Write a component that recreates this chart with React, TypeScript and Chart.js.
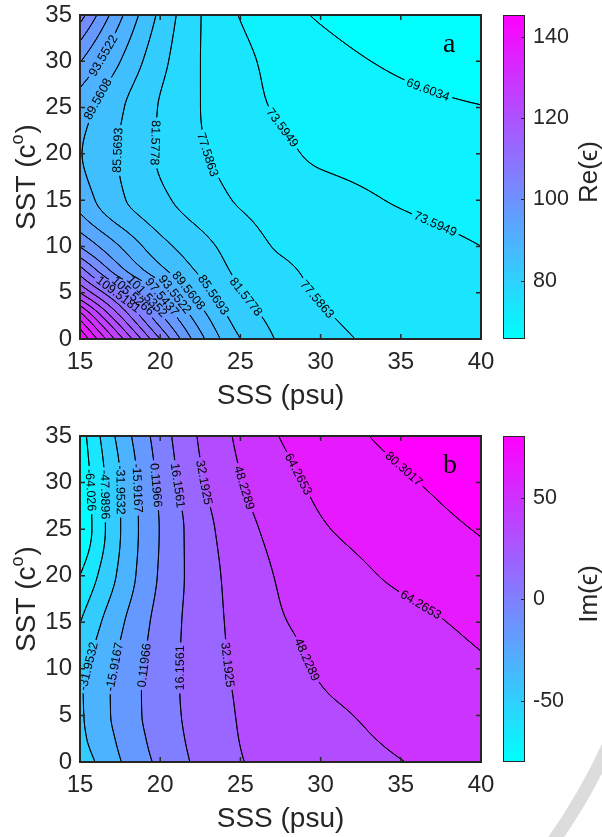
import React, { useEffect, useRef } from 'react';
import { Chart, registerables } from 'chart.js';

Chart.register(...registerables);

// ---------- data ----------
const SSS_GRID = [15, 17.5, 20, 22.5, 25, 27.5, 30, 35, 40];
const SST_GRID = [0, 2.5, 5, 7.5, 10, 15, 20, 25, 30, 35];

// Re(eps): one row per SST_GRID value, one column per SSS_GRID value
const RE_EPS = [
  [145.4, 127.0, 109.5, 94.8, 85.6, 81.1, 78.9, 76.3, 75.0],
  [135.5, 117.5, 102.3, 91.2, 83.6, 80.2, 78.0, 76.0, 74.9],
  [121.5, 108.3, 97.0, 87.6, 81.8, 79.2, 77.3, 75.8, 74.7],
  [111.0, 98.6, 90.5, 84.8, 80.6, 78.3, 76.8, 75.3, 74.2],
  [101.4, 93.5, 87.0, 83.0, 79.6, 77.2, 76.3, 74.9, 73.6],
  [92.0, 86.2, 82.5, 79.5, 77.2, 75.9, 75.0, 73.3, 72.2],
  [89.8, 85.3, 81.1, 78.0, 76.0, 74.4, 73.0, 72.0, 71.0],
  [91.5, 86.1, 81.3, 77.6, 74.8, 73.2, 72.0, 70.6, 69.7],
  [97.8, 89.6, 82.8, 77.6, 74.5, 72.5, 70.9, 69.0, 67.7],
  [107.5, 94.4, 84.7, 77.7, 73.4, 71.0, 69.2, 67.2, 65.7],
];

// Im(eps)
const IM_EPS = [
  [-42.2, -16.6, 3.8, 19.9, 31.6, 36.0, 39.9, 47.8, 56.0],
  [-36.0, -13.2, 6.6, 21.4, 32.5, 37.4, 42.3, 50.7, 57.5],
  [-34.4, -10.8, 8.2, 22.4, 33.2, 39.0, 44.7, 52.6, 59.0],
  [-34.0, -10.6, 8.5, 23.1, 34.0, 40.8, 47.5, 54.3, 60.8],
  [-36.9, -12.5, 7.9, 23.6, 35.3, 43.1, 49.4, 55.9, 62.5],
  [-48.3, -18.8, 5.7, 23.9, 37.0, 47.2, 51.8, 59.6, 67.8],
  [-64.0, -28.7, 2.0, 23.9, 38.8, 49.7, 56.0, 67.0, 74.8],
  [-79.5, -32.5, 0.8, 25.1, 42.5, 53.8, 62.7, 72.4, 81.4],
  [-76.0, -32.3, 3.5, 30.2, 47.4, 59.3, 67.5, 78.0, 88.0],
  [-72.0, -26.7, 7.9, 34.0, 51.4, 64.7, 71.7, 85.0, 93.0],
];

const RE_LEVELS = [69.6034, 73.5949, 77.5863, 81.5778, 85.5693, 89.5608, 93.5522, 97.5437, 101.5352,
  105.5266, 109.5181, 113.5096, 117.5010, 121.4925, 125.4840, 129.4755, 133.4669, 137.4584, 141.4499];
const RE_RANGE = [65.6119, 145.4413];
const IM_LEVELS = [-64.026, -47.9896, -31.9532, -15.9167, 0.11966, 16.1561, 32.1925, 48.2289, 64.2653, 80.3017];
const IM_RANGE = [-80.0624, 80.3017];

const X_TICKS = [15, 20, 25, 30, 35, 40];
const Y_TICKS = [0, 5, 10, 15, 20, 25, 30, 35];
const RE_CB_TICKS = [80, 100, 120, 140];
const IM_CB_TICKS = [-50, 0, 50];

// contour label anchors: [level index, SSS, SST, approx angle deg]
const RE_LABELS = [
  [6, 16.56, 30.5, -60], [5, 16.25, 25.8, -60], [4, 17.2, 20.4, -90], [3, 19.55, 21.2, 90],
  [2, 22.92, 19.9, 80], [1, 27.6, 22.8, 55], [0, 36.8, 27.4, 22], [1, 37.26, 12.86, 25],
  [2, 29.5, 3.9, 55], [3, 25.3, 4.5, 50], [4, 23.3, 4.75, 50], [5, 21.67, 5.1, 50],
  [6, 20.6, 4.4, 45], [7, 19.86, 4.2, 45], [8, 18.93, 4.2, 45], [9, 18.0, 4.1, 45], [10, 17.2, 4.4, 45],
];
const IM_LABELS = [
  [0, 15.75, 29.2, 90], [1, 16.68, 28.7, 80], [2, 17.56, 29.2, 85], [3, 18.6, 29.4, 80],
  [4, 19.68, 29.7, 85], [5, 21.17, 29.7, 85], [6, 22.67, 30.0, 80], [7, 25.16, 29.4, 75],
  [8, 28.28, 30.6, 60], [9, 35.26, 31.6, 35], [8, 36.2, 16.75, 30], [7, 28.9, 10.8, 60],
  [2, 15.69, 10.2, -80], [3, 17.18, 10.2, -80], [4, 18.93, 10.4, -85], [5, 21.17, 10.1, -90],
  [6, 23.98, 10.4, 88],
];

// ---------- helpers ----------
const FONT = '"Liberation Sans", Arial, sans-serif';
const INK = '#262626';

function endSlope(h1: number, h2: number, d1: number, d2: number) {
  let d = ((2 * h1 + h2) * d1 - h1 * d2) / (h1 + h2);
  if (Math.sign(d) !== Math.sign(d1)) d = 0;
  else if (Math.sign(d1) !== Math.sign(d2) && Math.abs(d) > Math.abs(3 * d1)) d = 3 * d1;
  return d;
}
function pchipSlopes(x: number[], y: number[]) {
  const n = x.length;
  const h: number[] = [], d: number[] = [];
  for (let i = 0; i < n - 1; i++) { h[i] = x[i + 1] - x[i]; d[i] = (y[i + 1] - y[i]) / h[i]; }
  const m = new Array(n).fill(0);
  for (let k = 1; k < n - 1; k++) {
    if (d[k - 1] * d[k] > 0) {
      const w1 = 2 * h[k] + h[k - 1], w2 = h[k] + 2 * h[k - 1];
      m[k] = (w1 + w2) / (w1 / d[k - 1] + w2 / d[k]);
    }
  }
  m[0] = endSlope(h[0], h[1], d[0], d[1]);
  m[n - 1] = endSlope(h[n - 2], h[n - 3], d[n - 2], d[n - 3]);
  return m;
}
function pchipEval(x: number[], y: number[], m: number[], t: number) {
  const n = x.length;
  let i = 0;
  while (i < n - 2 && t > x[i + 1]) i++;
  const h = x[i + 1] - x[i];
  const s = (t - x[i]) / h;
  const s2 = s * s, s3 = s2 * s;
  return (2 * s3 - 3 * s2 + 1) * y[i] + (s3 - 2 * s2 + s) * h * m[i] + (-2 * s3 + 3 * s2) * y[i + 1] + (s3 - s2) * h * m[i + 1];
}

function buildField(chart: any, grid: number[][]) {
  const ca = chart.chartArea;
  const xs = chart.scales.x, ys = chart.scales.y;
  const left = Math.round(ca.left), top = Math.round(ca.top);
  const W = Math.round(ca.right) - left, H = Math.round(ca.bottom) - top;
  const sss: number[] = [], sst: number[] = [];
  for (let i = 0; i < W; i++) sss.push(xs.getValueForPixel(left + i + 0.5));
  for (let j = 0; j < H; j++) sst.push(ys.getValueForPixel(top + j + 0.5));
  const rows = grid.map((row) => {
    const m = pchipSlopes(SSS_GRID, row);
    return sss.map((s) => pchipEval(SSS_GRID, row, m, s));
  });
  const F = new Float64Array(W * H);
  const col: number[] = new Array(SST_GRID.length);
  for (let i = 0; i < W; i++) {
    for (let r = 0; r < SST_GRID.length; r++) col[r] = rows[r][i];
    const m = pchipSlopes(SST_GRID, col);
    for (let j = 0; j < H; j++) F[j * W + i] = pchipEval(SST_GRID, col, m, sst[j]);
  }
  return { F, W, H, left, top };
}

function sampleField(fd: any, px: number, py: number) {
  let x = px - fd.left - 0.5, y = py - fd.top - 0.5;
  x = Math.max(0, Math.min(fd.W - 1.001, x));
  y = Math.max(0, Math.min(fd.H - 1.001, y));
  const i = Math.floor(x), j = Math.floor(y);
  const fx = x - i, fy = y - j;
  const W = fd.W, F = fd.F;
  const a = F[j * W + i], b = F[j * W + i + 1], c = F[(j + 1) * W + i + 1], d = F[(j + 1) * W + i];
  return a * (1 - fx) * (1 - fy) + b * fx * (1 - fy) + c * fx * fy + d * (1 - fx) * fy;
}

function cool(t: number): [number, number, number] {
  const u = Math.max(0, Math.min(1, t));
  return [Math.round(255 * u), Math.round(255 * (1 - u)), 255];
}

function fmtLevel(v: number) {
  const sig = Math.max(Math.ceil(Math.log10(Math.abs(v))), 1) + 4;
  let s = v.toPrecision(sig);
  if (s.indexOf('.') >= 0) s = s.replace(/0+$/, '').replace(/\.$/, '');
  return s;
}

function contourPath(ctx: CanvasRenderingContext2D, fd: any, L: number) {
  const { F, W, H, left, top } = fd;
  const ox = left + 0.5, oy = top + 0.5;
  ctx.beginPath();
  for (let j = 0; j < H - 1; j++) {
    for (let i = 0; i < W - 1; i++) {
      const a = F[j * W + i], b = F[j * W + i + 1], c = F[(j + 1) * W + i + 1], d = F[(j + 1) * W + i];
      const A = a >= L, B = b >= L, C = c >= L, D = d >= L;
      const idx = (A ? 1 : 0) | (B ? 2 : 0) | (C ? 4 : 0) | (D ? 8 : 0);
      if (idx === 0 || idx === 15) continue;
      const e: (number[] | null)[] = [null, null, null, null];
      if (A !== B) e[0] = [i + (L - a) / (b - a), j];
      if (B !== C) e[1] = [i + 1, j + (L - b) / (c - b)];
      if (D !== C) e[2] = [i + (L - d) / (c - d), j + 1];
      if (A !== D) e[3] = [i, j + (L - a) / (d - a)];
      const pts = e.filter((p) => p) as number[][];
      const seg = (p: number[], q: number[]) => {
        ctx.moveTo(ox + p[0], oy + p[1]);
        ctx.lineTo(ox + q[0], oy + q[1]);
      };
      if (pts.length === 2) seg(pts[0], pts[1]);
      else if (pts.length === 4) {
        const center = (a + b + c + d) / 4 >= L;
        if (center === A) { seg(e[0]!, e[1]!); seg(e[2]!, e[3]!); }
        else { seg(e[3]!, e[0]!); seg(e[1]!, e[2]!); }
      }
    }
  }
}

type Panel = {
  grid: number[][];
  levels: number[];
  range: number[];
  cbTicks: number[];
  labels: number[][];
  letter: string;
  cbTitle: string;
};

const PANEL_A: Panel = { grid: RE_EPS, levels: RE_LEVELS, range: RE_RANGE, cbTicks: RE_CB_TICKS, labels: RE_LABELS, letter: 'a', cbTitle: 'Re(ϵ)' };
const PANEL_B: Panel = { grid: IM_EPS, levels: IM_LEVELS, range: IM_RANGE, cbTicks: IM_CB_TICKS, labels: IM_LABELS, letter: 'b', cbTitle: 'Im(ϵ)' };

function makePlugin(panel: Panel, watermark: boolean) {
  return {
    id: 'contourPanel',
    afterDraw(chart: any) {
      const ctx: CanvasRenderingContext2D = chart.ctx;
      const ca = chart.chartArea;
      const xs = chart.scales.x, ys = chart.scales.y, cb = chart.scales.cb;
      const [cmin, cmax] = panel.range;
      const fd = buildField(chart, panel.grid);

      // filled bands
      const bandColors = [cmin, ...panel.levels].map((l) => cool((l - cmin) / (cmax - cmin)));
      const img = ctx.createImageData(fd.W, fd.H);
      for (let p = 0; p < fd.W * fd.H; p++) {
        const v = fd.F[p];
        let k = 0;
        while (k < panel.levels.length && v >= panel.levels[k]) k++;
        const col = bandColors[k];
        img.data[p * 4] = col[0]; img.data[p * 4 + 1] = col[1]; img.data[p * 4 + 2] = col[2]; img.data[p * 4 + 3] = 255;
      }
      ctx.putImageData(img, fd.left, fd.top);

      // label placement
      ctx.font = `12.5px ${FONT}`;
      const placed = panel.labels.map(([li, s, t, hint]) => {
        const L = panel.levels[li];
        let px = xs.getPixelForValue(s), py = ys.getPixelForValue(t);
        let gx = 0, gy = 0;
        for (let it = 0; it < 30; it++) {
          const v = sampleField(fd, px, py) - L;
          gx = (sampleField(fd, px + 1, py) - sampleField(fd, px - 1, py)) / 2;
          gy = (sampleField(fd, px, py + 1) - sampleField(fd, px, py - 1)) / 2;
          const g2 = gx * gx + gy * gy;
          if (g2 < 1e-12) break;
          let dx = -v * gx / g2, dy = -v * gy / g2;
          const dl = Math.hypot(dx, dy);
          if (dl > 4) { dx *= 4 / dl; dy *= 4 / dl; }
          px += dx; py += dy;
          if (Math.abs(v) < 1e-4) break;
        }
        let ang = Math.atan2(gx, -gy);
        const h = (hint * Math.PI) / 180;
        const diff = (a: number) => Math.abs(Math.atan2(Math.sin(a - h), Math.cos(a - h)));
        if (diff(ang + Math.PI) < diff(ang)) ang += Math.PI;
        const text = fmtLevel(L);
        const w = ctx.measureText(text).width;
        return { li, px, py, ang, text, w };
      });

      // contour lines with gaps at their own labels
      panel.levels.forEach((L, li) => {
        ctx.save();
        ctx.beginPath();
        ctx.rect(ca.left, ca.top, ca.right - ca.left, ca.bottom - ca.top);
        placed.filter((p) => p.li === li).forEach((p) => {
          const c = Math.cos(p.ang), s = Math.sin(p.ang);
          const hw = p.w / 2 + 3, hh = 7;
          const corners = [[-hw, -hh], [hw, -hh], [hw, hh], [-hw, hh]].map(([u, v]) => [p.px + u * c - v * s, p.py + u * s + v * c]);
          ctx.moveTo(corners[0][0], corners[0][1]);
          for (let k = 1; k < 4; k++) ctx.lineTo(corners[k][0], corners[k][1]);
          ctx.closePath();
        });
        ctx.clip('evenodd');
        contourPath(ctx, fd, L);
        ctx.strokeStyle = '#000';
        ctx.lineWidth = 1;
        ctx.lineCap = 'round';
        ctx.stroke();
        ctx.restore();
      });

      // labels
      ctx.save();
      ctx.fillStyle = '#000';
      ctx.textAlign = 'center';
      ctx.textBaseline = 'middle';
      ctx.font = `12.5px ${FONT}`;
      placed.forEach((p) => {
        ctx.save();
        ctx.translate(p.px, p.py);
        ctx.rotate(p.ang);
        ctx.fillText(p.text, 0, 0.5);
        ctx.restore();
      });
      ctx.restore();

      // axes box and inward ticks
      ctx.save();
      ctx.strokeStyle = INK;
      ctx.lineWidth = 2;
      ctx.strokeRect(ca.left, ca.top, ca.right - ca.left, ca.bottom - ca.top);
      ctx.lineWidth = 1.5;
      ctx.beginPath();
      X_TICKS.forEach((v) => {
        const x = xs.getPixelForValue(v);
        ctx.moveTo(x, ca.bottom); ctx.lineTo(x, ca.bottom - 5);
        ctx.moveTo(x, ca.top); ctx.lineTo(x, ca.top + 5);
      });
      Y_TICKS.forEach((v) => {
        const y = ys.getPixelForValue(v);
        ctx.moveTo(ca.left, y); ctx.lineTo(ca.left + 5, y);
        ctx.moveTo(ca.right, y); ctx.lineTo(ca.right - 5, y);
      });
      ctx.stroke();
      ctx.restore();

      // colorbar
      const barL = cb.left + 22, barR = cb.left + 44;
      for (let y = Math.round(cb.top); y < Math.round(cb.bottom); y++) {
        const v = cb.getValueForPixel(y + 0.5);
        const c = cool((v - cmin) / (cmax - cmin));
        ctx.fillStyle = `rgb(${c[0]},${c[1]},${c[2]})`;
        ctx.fillRect(barL, y, barR - barL, 1);
      }
      ctx.save();
      ctx.strokeStyle = INK;
      ctx.lineWidth = 1;
      ctx.strokeRect(barL + 0.5, cb.top + 0.5, barR - barL - 1, cb.bottom - cb.top - 1);
      ctx.beginPath();
      panel.cbTicks.forEach((v) => {
        const y = Math.round(cb.getPixelForValue(v)) + 0.5;
        ctx.moveTo(barR - 1, y); ctx.lineTo(barR - 4, y);
      });
      ctx.stroke();
      ctx.restore();

      // titles
      ctx.save();
      ctx.fillStyle = INK;
      ctx.font = `28px ${FONT}`;
      ctx.textAlign = 'center';
      ctx.textBaseline = 'alphabetic';
      ctx.fillText('SSS (psu)', (ca.left + ca.right) / 2, ca.bottom + 65);

      const cy = (ca.top + ca.bottom) / 2;
      ctx.save();
      ctx.translate(35, cy);
      ctx.rotate(-Math.PI / 2);
      ctx.textAlign = 'left';
      const p1 = 'SST (c', p3 = ')';
      ctx.font = `28px ${FONT}`;
      const w1 = ctx.measureText(p1).width, w3 = ctx.measureText(p3).width;
      ctx.font = `18px ${FONT}`;
      const w2 = ctx.measureText('o').width;
      const total = w1 + w2 + w3 + 1;
      const x0 = -total / 2;
      ctx.font = `28px ${FONT}`;
      ctx.fillText(p1, x0, 0);
      ctx.font = `18px ${FONT}`;
      ctx.fillText('o', x0 + w1, -12);
      ctx.font = `28px ${FONT}`;
      ctx.fillText(p3, x0 + w1 + w2 + 1, 0);
      ctx.restore();

      ctx.save();
      ctx.translate(597, cy - 5);
      ctx.rotate(-Math.PI / 2);
      ctx.textAlign = 'center';
      ctx.font = `26px ${FONT}`;
      ctx.fillText(panel.cbTitle, 0, 0);
      ctx.restore();

      ctx.fillStyle = '#000';
      ctx.textAlign = 'left';
      ctx.font = `28px "Liberation Serif", "Times New Roman", serif`;
      ctx.fillText(panel.letter, 443, ca.top + 37);
      ctx.restore();

      if (watermark) {
        ctx.save();
        ctx.strokeStyle = '#dcdcdc';
        ctx.lineWidth = 13;
        ctx.beginPath();
        ctx.moveTo(552, chart.height + 6);
        ctx.quadraticCurveTo(585, chart.height - 40, 610, chart.height - 95);
        ctx.stroke();
        ctx.restore();
      }
    },
  };
}

const noPadV = (s: any) => { s.paddingTop = 0; s.paddingBottom = 0; };
const noPadH = (s: any) => { s.paddingLeft = 0; s.paddingRight = 0; };

function ContourPanel({ panel, height, padTop, xAxisH, watermark }: { panel: Panel; height: number; padTop: number; xAxisH: number; watermark: boolean }) {
  const ref = useRef<HTMLCanvasElement>(null);
  useEffect(() => {
    const tickFont = { family: FONT, size: 24 };
    const chart = new Chart(ref.current as HTMLCanvasElement, {
      type: 'scatter',
      data: { datasets: [] },
      options: {
        animation: false,
        responsive: false,
        devicePixelRatio: 1,
        events: [],
        layout: { padding: { top: padTop, left: 0, right: 0, bottom: 0 }, autoPadding: false },
        plugins: { legend: { display: false }, tooltip: { enabled: false } },
        scales: {
          x: {
            type: 'linear', position: 'bottom', min: 15, max: 40,
            afterBuildTicks: (s: any) => { s.ticks = X_TICKS.map((v) => ({ value: v })); },
            afterFit: (s: any) => { s.height = xAxisH; noPadH(s); },
            grid: { display: false, drawTicks: false },
            border: { display: false },
            ticks: { font: tickFont, color: INK, padding: 9, maxRotation: 0, autoSkip: false, callback: (v: any) => String(v) },
          },
          y: {
            type: 'linear', position: 'left', min: 0, max: 35,
            afterBuildTicks: (s: any) => { s.ticks = Y_TICKS.map((v) => ({ value: v })); },
            afterFit: (s: any) => { s.width = 80; noPadV(s); },
            grid: { display: false, drawTicks: false },
            border: { display: false },
            ticks: { font: tickFont, color: INK, padding: 8, autoSkip: false, callback: (v: any) => String(v) },
          },
          cb: {
            type: 'linear', position: 'right', min: panel.range[0], max: panel.range[1],
            afterBuildTicks: (s: any) => { s.ticks = panel.cbTicks.map((v) => ({ value: v })); },
            afterFit: (s: any) => { s.width = 121; noPadV(s); },
            grid: { display: false, drawTicks: false },
            border: { display: false },
            ticks: { font: { family: FONT, size: 21.5 }, color: INK, padding: 52, autoSkip: false, callback: (v: any) => String(v) },
          },
        },
      } as any,
      plugins: [makePlugin(panel, watermark)],
    });
    return () => chart.destroy();
  }, []);
  return <canvas ref={ref} width={602} height={height} style={{ display: 'block', width: 602, height }} />;
}

export default function App() {
  return (
    <div style={{ position: 'absolute', left: 0, top: 0, width: 602, height: 837, background: '#fff', overflow: 'hidden' }}>
      <ContourPanel panel={PANEL_A} height={418} padTop={15} xAxisH={79} watermark={false} />
      <ContourPanel panel={PANEL_B} height={419} padTop={18} xAxisH={75} watermark={true} />
    </div>
  );
}
